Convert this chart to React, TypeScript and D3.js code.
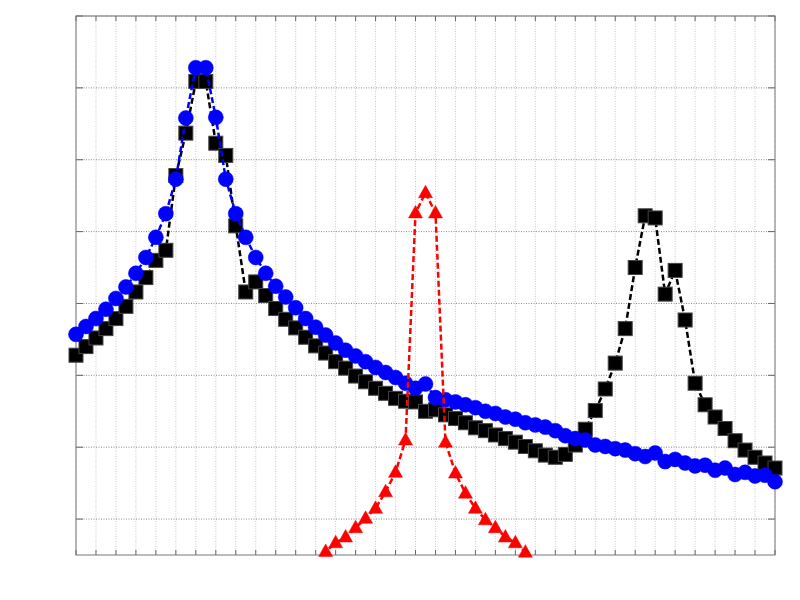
import React from 'react';
import * as d3 from 'd3';

// x positions are index * 0.5 (units)
const xStep = 0.5;
const xTicks = d3.range(0, 36, 1);
const yTicks = [0, 1, 2, 3, 4, 5, 6, 7];

const blueValues = [
  2.57, 2.68, 2.79, 2.92, 3.07, 3.23, 3.42, 3.64, 3.92, 4.25,
  4.73, 5.58, 6.28, 6.28, 5.59, 4.73, 4.25, 3.92, 3.64, 3.42,
  3.24, 3.09, 2.94, 2.79, 2.67, 2.56, 2.45, 2.35, 2.27, 2.19,
  2.11, 2.04, 1.97, 1.89, 1.82, 1.88, 1.69, 1.66, 1.63, 1.59,
  1.55, 1.50, 1.47, 1.42, 1.39, 1.34, 1.31, 1.28, 1.23, 1.16,
  1.12, 1.10, 1.03, 1.01, 0.98, 0.96, 0.91, 0.87, 0.92, 0.80,
  0.83, 0.78, 0.74, 0.75, 0.68, 0.71, 0.62, 0.65, 0.60, 0.61,
  0.52,
];

const blackValues = [
  2.28, 2.40, 2.52, 2.65, 2.79, 2.96, 3.16, 3.36, 3.60, 3.74,
  4.78, 5.37, 6.09, 6.09, 5.23, 5.06, 4.08, 3.16, 3.30, 3.11,
  2.93, 2.78, 2.66, 2.53, 2.41, 2.31, 2.19, 2.10, 1.99, 1.91,
  1.82, 1.75, 1.68, 1.64, 1.63, 1.50, 1.52, 1.45, 1.40, 1.34,
  1.27, 1.23, 1.17, 1.12, 1.07, 1.01, 0.95, 0.89, 0.86, 0.90,
  1.03, 1.25, 1.51, 1.81, 2.17, 2.65, 3.50, 4.22, 4.19, 3.13,
  3.46, 2.77, 1.89, 1.59, 1.42, 1.26, 1.09, 0.96, 0.86, 0.78,
  0.71,
];

const redStartIndex = 24;
const redValues = [
  -0.58, -0.45, -0.33, -0.25, -0.12, 0.01, 0.15, 0.38, 0.65, 1.10,
  4.26, 4.54, 4.26, 1.07, 0.64, 0.36, 0.15, -0.01, -0.12, -0.25,
  -0.33, -0.46, -0.58,
];

export default function App() {
  const W = 800;
  const H = 600;
  const L = 76, R = 775, T = 16, B = 555;
  const x = d3.scaleLinear().domain([0, 35]).range([L, R]);
  const y = d3.scaleLinear().domain([-0.5, 7]).range([B, T]);

  const mkLine = (start: number) =>
    d3.line<number>()
      .x((_, i) => x((i + start) * xStep))
      .y((d) => y(d));

  const inside = (v: number) => y(v) <= B + 0.5 && y(v) >= T - 0.5;

  const blackPts = blackValues.map((v, i) => ({ px: x(i * xStep), py: y(v), v }));
  const bluePts = blueValues.map((v, i) => ({ px: x(i * xStep), py: y(v), v }));
  const redPts = redValues.map((v, i) => ({ px: x((i + redStartIndex) * xStep), py: y(v), v }));

  const tri = 'M0,-7.5 L7,5 L-7,5 Z';

  return (
    <svg
      width={W}
      height={H}
      style={{ position: 'absolute', left: 0, top: 0, display: 'block', background: '#fff' }}
    >
      <defs>
        <clipPath id="plotClip">
          <rect x={L} y={T} width={R - L} height={B - T} />
        </clipPath>
      </defs>
      <rect x={0} y={0} width={W} height={H} fill="#fff" />
      {/* vertical grid */}
      <g>
        {xTicks.map((t) => (
          <line
            key={'vx' + t}
            x1={x(t)} x2={x(t)} y1={T} y2={B}
            stroke="#c8c8c8" strokeWidth={1} strokeDasharray="1,1.5"
          />
        ))}
      </g>
      {/* horizontal grid */}
      <g>
        {yTicks.map((t) => (
          <line
            key={'hy' + t}
            x1={L} x2={R} y1={y(t)} y2={y(t)}
            stroke="#8a8a8a" strokeWidth={1} strokeDasharray="1,1.5"
          />
        ))}
      </g>
      {/* ticks */}
      <g stroke="#666" strokeWidth={1}>
        {yTicks.map((t) => (
          <g key={'ty' + t}>
            <line x1={L} x2={L + 7} y1={y(t)} y2={y(t)} />
            <line x1={R} x2={R - 7} y1={y(t)} y2={y(t)} />
          </g>
        ))}
        {xTicks.map((t) => (
          <g key={'tx' + t}>
            <line x1={x(t)} x2={x(t)} y1={B} y2={B - 5} />
            <line x1={x(t)} x2={x(t)} y1={T} y2={T + 5} />
          </g>
        ))}
      </g>
      {/* box */}
      <rect x={L} y={T} width={R - L} height={B - T} fill="none" stroke="#777" strokeWidth={1} />

      {/* black series */}
      <path
        d={mkLine(0)(blackValues) || ''}
        fill="none" stroke="#000" strokeWidth={2.5} strokeDasharray="6,3"
        clipPath="url(#plotClip)"
      />
      {blackPts.filter((p) => inside(p.v)).map((p, i) => (
        <rect key={'bk' + i} x={p.px - 7} y={p.py - 7} width={14} height={14}
          fill="#000" stroke="#444" strokeWidth={1} />
      ))}

      {/* blue series */}
      <path
        d={mkLine(0)(blueValues) || ''}
        fill="none" stroke="#0000ff" strokeWidth={2.5} strokeDasharray="6,3"
        clipPath="url(#plotClip)"
      />
      {bluePts.filter((p) => inside(p.v)).map((p, i) => (
        <circle key={'bl' + i} cx={p.px} cy={p.py} r={7.5} fill="#0000ff" stroke="#0000ff" strokeWidth={0.5} />
      ))}

      {/* red series */}
      <path
        d={mkLine(redStartIndex)(redValues) || ''}
        fill="none" stroke="#ff0000" strokeWidth={2.5} strokeDasharray="6,3"
        clipPath="url(#plotClip)"
      />
      {redPts.filter((p) => inside(p.v)).map((p, i) => (
        <path key={'rd' + i} d={tri} transform={`translate(${p.px},${p.py})`} fill="#ff0000" stroke="#ff0000" strokeWidth={0.5} />
      ))}
    </svg>
  );
}
